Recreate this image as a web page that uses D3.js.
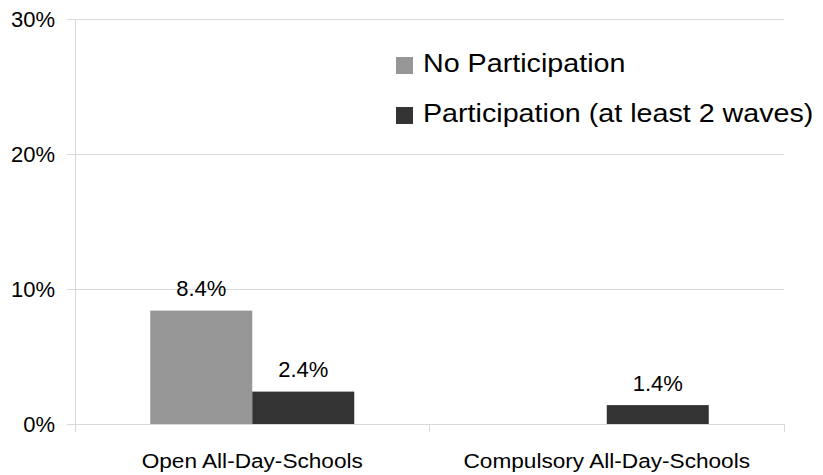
<!DOCTYPE html>
<html><head><meta charset="utf-8">
<script src="https://cdn.jsdelivr.net/npm/d3@7"></script>
<style>
body{margin:0;background:#fff;}
svg{display:block;font-family:"Liberation Sans",Arial,sans-serif;}
</style></head>
<body>
<svg id="c" width="823" height="475"></svg>
<script>
const categories = ["Open All-Day-Schools", "Compulsory All-Day-Schools"];
const seriesNames = ["No Participation", "Participation (at least 2 waves)"];
const noParticipation = [8.4, null];
const participation = [2.4, 1.4];
const yTicks = [0, 10, 20, 30];
const colors = ["#969696", "#333333"];

(function () {
const svg = d3.select("#c");
const mLeft = 75, mRight = 784, mTop = 19, mBottom = 424;
const y = d3.scaleLinear().domain([0, 30]).range([mBottom, mTop]);
const x0 = d3.scaleBand().domain(categories).range([mLeft, mRight]).padding(0);
const x1 = d3.scaleBand().domain(seriesNames).range([0, x0.bandwidth()]).paddingInner(0).paddingOuter(0.7377);

// gridlines
svg.append("g").selectAll("line").data(yTicks.filter(d => d > 0)).join("line")
  .attr("x1", mLeft - 8).attr("x2", mRight).attr("y1", d => y(d)).attr("y2", d => y(d))
  .attr("stroke", "#d9d9d9").attr("stroke-width", 1).attr("shape-rendering", "crispEdges");

// y axis
const yAxis = d3.axisLeft(y).tickValues(yTicks).tickFormat(d => d + "%").tickSize(8).tickPadding(12);
const gy = svg.append("g").attr("transform", `translate(${mLeft},0)`).call(yAxis);
gy.select(".domain").attr("stroke", "#d9d9d9").attr("shape-rendering", "crispEdges");
gy.selectAll(".tick line").attr("stroke", "#d9d9d9").attr("shape-rendering", "crispEdges");
gy.selectAll(".tick text").attr("font-size", 22).attr("fill", "#000").attr("font-family", '"Liberation Sans",Arial,sans-serif');

// bars
const data = categories.map((c, i) => ({cat: c, vals: [noParticipation[i], participation[i]]}));
const groups = svg.append("g").selectAll("g").data(data).join("g")
  .attr("transform", d => `translate(${x0(d.cat)},0)`);
const items = d => d.vals.map((v, j) => ({s: seriesNames[j], v, j})).filter(e => e.v != null);
groups.selectAll("rect").data(items).join("rect")
  .attr("x", d => x1(d.s)).attr("width", x1.bandwidth())
  .attr("y", d => y(d.v)).attr("height", d => y(0) - y(d.v))
  .attr("fill", d => colors[d.j]);
groups.selectAll("text").data(items).join("text")
  .attr("x", d => x1(d.s) + x1.bandwidth() / 2).attr("y", d => y(d.v) - 14.5)
  .attr("text-anchor", "middle").attr("font-size", 22).attr("fill", "#000")
  .text(d => d.v.toFixed(1) + "%");

// x axis
const xg = svg.append("g");
xg.append("line").attr("x1", mLeft).attr("x2", mRight).attr("y1", mBottom).attr("y2", mBottom)
  .attr("stroke", "#d9d9d9").attr("shape-rendering", "crispEdges");
const bounds = [mLeft, ...categories.map(c => x0(c) + x0.bandwidth())];
xg.selectAll(".xt").data(bounds).join("line").attr("class", "xt")
  .attr("x1", d => d).attr("x2", d => d).attr("y1", mBottom).attr("y2", mBottom + 8)
  .attr("stroke", "#d9d9d9").attr("shape-rendering", "crispEdges");
xg.selectAll("text").data(categories).join("text")
  .attr("transform", d => `translate(${x0(d) + x0.bandwidth() / 2},467.5) scale(1.16,1)`)
  .attr("text-anchor", "middle").attr("font-size", 19.5).attr("fill", "#000")
  .text(d => d);

// legend
const lg = svg.append("g").attr("transform", "translate(396,0)");
const li = lg.selectAll("g").data(seriesNames).join("g")
  .attr("transform", (d, i) => `translate(0,${72 + i * 50})`);
li.append("rect").attr("x", 0).attr("y", -15).attr("width", 17).attr("height", 17)
  .attr("fill", (d, i) => colors[i]);
li.append("text").attr("transform", "translate(27,0) scale(1.125,1)")
  .attr("font-size", 25.5).attr("fill", "#000").text(d => d);
})();
</script>
</body></html>
